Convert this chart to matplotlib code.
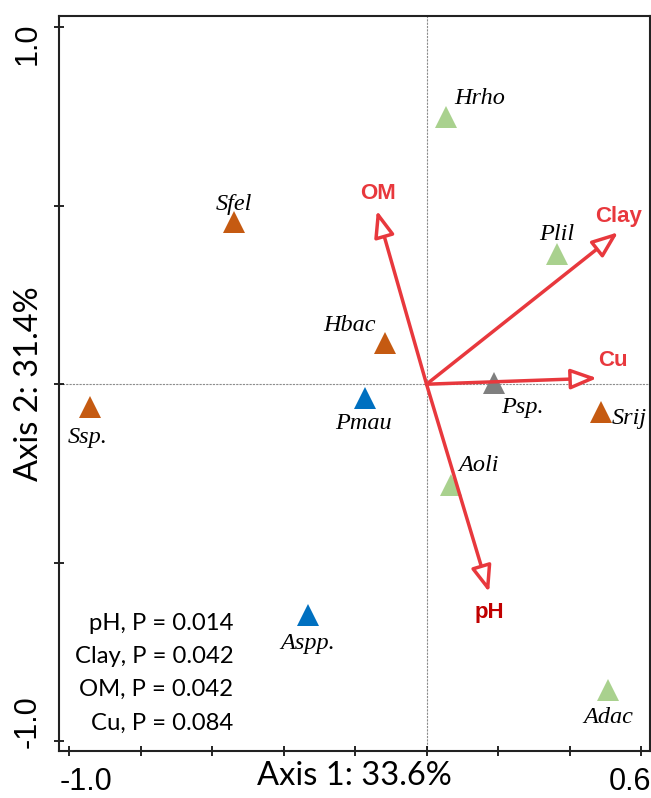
import numpy as np
import matplotlib
matplotlib.use("Agg")
import matplotlib.pyplot as plt
from matplotlib.transforms import ScaledTranslation

# species scores
species = ["Hrho", "Sfel", "Plil", "Hbac", "Ssp.", "Pmau", "Psp.", "Srij", "Aoli", "Aspp.", "Adac"]
sp_x = [0.055, -0.538, 0.365, -0.116, -0.941, -0.172, 0.189, 0.488, 0.068, -0.331, 0.508]
sp_y = [0.748, 0.454, 0.364, 0.115, -0.064, -0.039, 0.003, -0.078, -0.283, -0.647, -0.857]
sp_group = ["green", "orange", "green", "orange", "orange", "blue", "grey", "orange", "green", "blue", "green"]

# environmental vectors
env = ["OM", "Clay", "Cu", "pH"]
env_x = [-0.139, 0.536, 0.477, 0.175]
env_y = [0.487, 0.426, 0.017, -0.583]

p_lines = ["pH, P = 0.014", "Clay, P = 0.042", "OM, P = 0.042", "Cu, P = 0.084"]

GROUP_COLORS = {"green": "#A9D18E", "orange": "#C55A11", "blue": "#0070C0", "grey": "#7F7F7F"}
RED = "#E8383D"
# label offsets in pixels (dx, dy up)
SP_OFF = {"Hrho": (33, 19), "Sfel": (0, 18), "Plil": (0, 20), "Hbac": (-36, 18),
          "Ssp.": (-2, -30), "Pmau": (-2, -25), "Psp.": (28, -24), "Srij": (28, -6),
          "Aoli": (28, 20), "Aspp.": (0, -28), "Adac": (0, -28)}
ENV_OFF = {"OM": (1, 17), "Clay": (0, 16), "Cu": (16, 18), "pH": (0, -20)}

fig = plt.figure(figsize=(6.51, 7.98), dpi=100)
ax = fig.add_axes([59 / 651, 47 / 798, 591 / 651, 735 / 798])
ax.set_xlim(-1.028, 0.625)
ax.set_ylim(-1.028, 1.032)

ax.axhline(0, color="#8c8c8c", lw=0.8, ls=(0, (2, 1)), zorder=1)
ax.axvline(0, color="#8c8c8c", lw=0.8, ls=(0, (2, 1)), zorder=1)

for name, x, y, g in zip(species, sp_x, sp_y, sp_group):
    ax.plot(x, y, marker="^", ms=15.5, color=GROUP_COLORS[g], mec=GROUP_COLORS[g], mew=0, zorder=4)
    dx, dy = SP_OFF[name]
    ax.annotate(name, (x, y), xytext=(dx * 0.72, dy * 0.72), textcoords="offset points",
                ha="center", va="center", fontsize=17.5, style="italic",
                family="Liberation Serif", zorder=5)

for name, x, y in zip(env, env_x, env_y):
    ax.annotate("", xy=(x, y), xytext=(0, 0),
                arrowprops=dict(arrowstyle="-|>,head_length=1.6,head_width=0.62",
                                fc="white", ec=RED, lw=2.5, shrinkA=0, shrinkB=0),
                zorder=6)
    dx, dy = ENV_OFF[name]
    col = "#C00000" if name == "pH" else RED
    ax.annotate(name, (x, y), xytext=(dx * 0.72, dy * 0.72), textcoords="offset points",
                ha="center", va="center", fontsize=16, fontweight="bold",
                family="Liberation Sans", color=col, zorder=7)

ax.text(0.295, 0.106, "\n".join(p_lines), transform=ax.transAxes, ha="right", va="center",
        multialignment="right", fontsize=17.2, family="Lato", linespacing=1.72)

ax.set_xticks(np.arange(-1.0, 0.61, 0.2))
ax.set_yticks(np.arange(-1.0, 1.01, 0.5))
ax.set_xticklabels(["-1.0", "", "", "", "", "", "", "", "0.6"])
ax.set_yticklabels(["-1.0", "", "", "", "1.0"], rotation=90, va="center")
ax.tick_params(direction="inout", length=7, width=1.2, labelsize=22, pad=8)
for lab in ax.get_xticklabels() + ax.get_yticklabels():
    lab.set_family("Liberation Sans")
xl = ax.get_xticklabels()
xl[0].set_transform(xl[0].get_transform() + ScaledTranslation(0.17, 0, fig.dpi_scale_trans))
xl[-1].set_transform(xl[-1].get_transform() + ScaledTranslation(-0.11, 0, fig.dpi_scale_trans))
yl = ax.get_yticklabels()
yl[0].set_transform(yl[0].get_transform() + ScaledTranslation(0, 0.19, fig.dpi_scale_trans))
yl[-1].set_transform(yl[-1].get_transform() + ScaledTranslation(0, -0.16, fig.dpi_scale_trans))

ax.set_xlabel("Axis 1: 33.6%", fontsize=23.5, family="Lato", labelpad=-26)
ax.set_ylabel("Axis 2: 31.4%", fontsize=23.5, family="Lato", labelpad=-22)

for s in ax.spines.values():
    s.set_linewidth(1.5)
    s.set_color("#222222")

fig.savefig("out.png", dpi=100)
